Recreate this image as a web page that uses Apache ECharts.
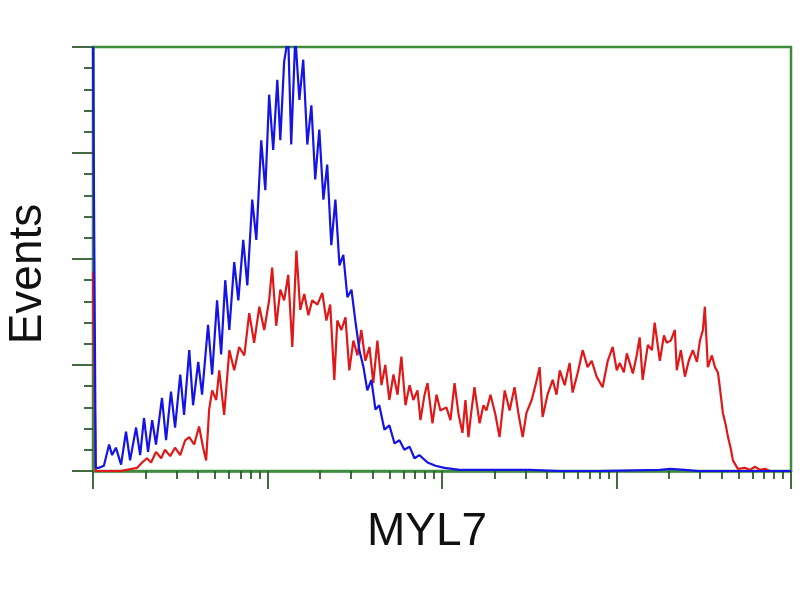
<!DOCTYPE html>
<html>
<head>
<meta charset="utf-8">
<script src="https://cdn.jsdelivr.net/npm/echarts@6/dist/echarts.min.js"></script>
<style>html,body{margin:0;padding:0;background:#fff}#c{width:800px;height:600px}</style>
</head>
<body>
<div id="c"></div>
<script>
// Channel (log-scaled fluorescence, 64 channels per decade) and event counts
var blueX = [0,1,2.2,4,5.9,7,8.4,10.3,12.1,13.6,15.8,17.3,18.7,20.2,21.7,23.1,25.3,26.8,28.6,30.1,32,33.4,35.3,36.7,38.6,40,42.2,43.7,45.5,47,48.5,50,51.8,53.3,55.1,56.6,58.4,59.9,61.7,63.2,64.6,66.1,67.6,68.7,70.1,71.6,72.7,74.2,75.7,77.1,78.6,80.1,81.5,83,84.5,85.9,87.4,88.9,90.4,91.8,93.3,94.8,96.2,97.7,99.2,100.6,102.1,103.6,105,106.9,108.7,110.6,112.4,114.2,116.1,117.9,119.7,122.7,125.6,128.9,134.4,141.8,149.1,160,171,185,207.9,211.6,217.1,222,256];
var blueY = [400,3,3,5,25,15,22,6,37,10,41,15,50,18,48,25,69,29,75,41,91,53,114,62,103,72,138,91,161,110,180,133,197,161,218,175,256,218,312,265,355,303,369,312,386,410,308,410,350,388,308,345,275,322,256,289,213,256,194,204,164,171,142,114,98,76,86,58,62,39,43,26,29,20,23,12,15,8,5,3,1,1,1,1,0,0,1,2,1,0,0];
var redX = [0,1,5,10,16.2,18,19.8,21.3,23.1,25,26.4,28.3,30.1,32,33.8,35.3,37.1,38.9,40.4,41.5,42.6,43.7,45.2,46.3,48.1,50,51.8,53.6,55.5,57.3,59.1,61,62.8,64.6,65.7,67.2,68.7,70.1,71.6,73.1,74.6,76,77.5,79,80.4,82.3,84.1,85.6,87,88.5,89.6,91.1,92.6,94,95.5,97,98.4,99.9,101.4,102.8,104.3,105.8,107.2,108.7,110.2,111.7,113.1,114.6,116.1,117.5,119,120.1,121.6,122.7,124.5,126,127.4,129.6,131.1,132.6,134.1,135.5,136.6,137.7,138.8,139.9,141.8,143.2,144.3,145.8,147.6,149.1,151,152.8,154.6,156.1,157.6,159,160.9,162.3,163.8,164.9,166.7,168.6,170,171.2,173,174.8,175.9,177.8,179.6,181.4,182.9,184.7,186.9,188.8,190.6,192.1,193.2,194.7,195.8,198,199.4,200.5,201.6,203.5,205,206,207.9,209.4,210.4,211.9,213.4,214.1,215.6,217.1,218.5,220,221.5,222.6,223.7,224.4,225.5,227,228.1,229.2,229.9,231,232.1,232.9,234,234.7,236.5,239.1,240.9,242.8,244.6,246.5,248.3,256];
var redY = [188,0,0,0,3,8,12,8,18,12,20,14,22,15,29,32,25,42,22,10,58,76,67,95,53,114,95,117,109,149,121,155,133,161,192,137,171,161,185,117,208,152,167,147,161,157,168,142,157,86,142,133,145,95,123,109,133,104,117,83,123,81,100,67,91,72,108,62,81,67,76,48,72,83,45,72,57,60,48,83,53,36,67,32,57,79,45,62,57,72,53,32,76,57,79,53,32,55,67,81,98,51,72,86,72,95,81,102,74,93,114,98,104,89,79,104,117,95,102,93,111,92,109,126,86,119,114,140,104,128,121,123,133,95,114,89,104,114,103,123,133,155,98,109,98,93,79,55,43,32,20,10,2,3,1,4,1,2,0,0];

function pairs(xs, ys) { return xs.map(function (x, i) { return [x, ys[i]]; }); }

var green = '#3c8c3c';
var tickCol = '#2f5a2f';
var majorX = [0, 64, 128, 192, 256];
var minorX = [];
for (var d = 0; d < 4; d++) {
  for (var k = 2; k <= 9; k++) minorX.push(64 * d + 64 * Math.log10(k));
}

var chart = echarts.init(document.getElementById('c'));
chart.setOption({
  animation: false,
  backgroundColor: '#ffffff',
  grid: { left: 93, right: 9, top: 47, bottom: 129, show: true, borderColor: green, borderWidth: 2.5, backgroundColor: 'transparent' },
  xAxis: [
    { type: 'value', min: 0, max: 256, position: 'bottom',
      axisLine: { show: true, lineStyle: { color: green, width: 2.5 } },
      axisTick: { show: true, customValues: majorX, length: 18, inside: false, lineStyle: { color: tickCol, width: 1.8 } },
      axisLabel: { show: false }, splitLine: { show: false } },
    { type: 'value', min: 0, max: 256, position: 'bottom', gridIndex: 0,
      axisLine: { show: false },
      axisTick: { show: true, customValues: minorX, length: 8, inside: false, lineStyle: { color: tickCol, width: 1.8 } },
      axisLabel: { show: false }, splitLine: { show: false } }
  ],
  yAxis: {
    type: 'value', min: 0, max: 400, interval: 100,
    axisLine: { show: true, lineStyle: { color: green, width: 2.5 } },
    axisTick: { show: true, length: 21, lineStyle: { color: tickCol, width: 1.8 } },
    minorTick: { show: true, splitNumber: 5, length: 9, lineStyle: { color: tickCol, width: 1.8 } },
    axisLabel: { show: false }, splitLine: { show: false }
  },
  graphic: [
    { type: 'text', x: 427, y: 532, style: { text: 'MYL7', font: '46px "Liberation Sans", Arial, sans-serif', fill: '#111', textAlign: 'center', textVerticalAlign: 'middle' } },
    { type: 'text', x: 28, y: 274, rotation: Math.PI / 2, style: { text: 'Events', font: '46px "Liberation Sans", Arial, sans-serif', fill: '#111', textAlign: 'center', textVerticalAlign: 'middle' } }
  ],
  series: [
    { type: 'line', data: pairs(redX, redY), showSymbol: false, symbol: 'none', clip: true,
      lineStyle: { color: '#e01818', width: 2.2 } },
    { type: 'line', data: pairs(blueX, blueY), showSymbol: false, symbol: 'none', clip: true,
      lineStyle: { color: '#1414e6', width: 2.2 } }
  ]
});
</script>
</body>
</html>
